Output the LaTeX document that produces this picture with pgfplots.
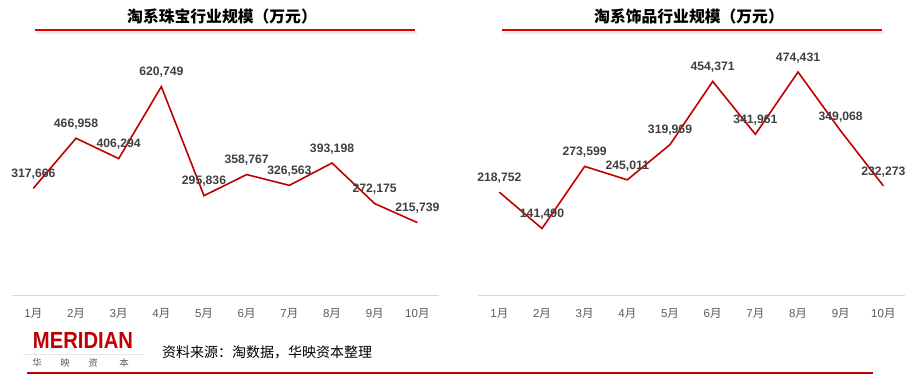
\documentclass[border=0pt]{standalone}
\usepackage{fontspec}
\usepackage{graphicx}
\usepackage{pgfplots}
\pgfplotsset{compat=1.18}
\setmainfont{Liberation Sans}
\newfontfamily\cjk{Noto Sans CJK SC}
\definecolor{lred}{HTML}{C00000}
\definecolor{tred}{HTML}{E00000}
\definecolor{lbl}{HTML}{404040}
\definecolor{tickc}{HTML}{595959}
\definecolor{axgray}{HTML}{D9D9D9}
\pgfplotsset{myax/.style={
  scale only axis, width=426.7pt, height=235pt,
  xmin=0.5, xmax=10.5, ymin=0,
  axis x line=bottom, axis y line=none,
  axis line style={draw=axgray, line width=0.8pt, -},
  xtick={1,...,10},
  xticklabels={1{\cjk 月},2{\cjk 月},3{\cjk 月},4{\cjk 月},5{\cjk 月},6{\cjk 月},7{\cjk 月},8{\cjk 月},9{\cjk 月},10{\cjk 月}},
  major tick length=0pt,
  xticklabel style={anchor=center, yshift=-18.5pt, font=\fontsize{11.5}{11.5}\selectfont, text=tickc},
  clip=false,
  point meta=explicit symbolic,
  nodes near coords,
  every node near coord/.append style={anchor=center, yshift=14pt, font=\bfseries\fontsize{12.2}{12.2}\selectfont, text=lbl},
  anchor=south west,
}}
\begin{document}
\begin{tikzpicture}
\path[use as bounding box] (0,0) rectangle (916pt,-374pt);
\begin{axis}[myax, at={(12pt,-295pt)}, ymax=700000]
\addplot[lred, line width=1.6pt, mark=none] table[meta=lab] {
x y lab
1 317666 317,666
2 466958 466,958
3 406294 406,294
4 620749 620,749
5 295836 295,836
6 358767 358,767
7 326563 326,563
8 393198 393,198
9 272175 272,175
10 215739 215,739
};
\end{axis}
\begin{axis}[myax, at={(478pt,-295pt)}, ymax=500000]
\addplot[lred, line width=1.6pt, mark=none] table[meta=lab] {
x y lab
1 218752 218,752
2 141490 141,490
3 273599 273,599
4 245011 245,011
5 319969 319,969
6 454371 454,371
7 341961 341,961
8 474431 474,431
9 349068 349,068
10 232273 232,273
};
\end{axis}
% titles
\node[font=\cjk\bfseries\fontsize{15.8}{15.8}\selectfont] at (222pt,-16pt) {淘系珠宝行业规模（万元）};
\node[font=\cjk\bfseries\fontsize{15.8}{15.8}\selectfont] at (689pt,-16pt) {淘系饰品行业规模（万元）};
\fill[black!8] (36pt,-31pt) rectangle (417pt,-34pt);
\fill[tred] (35pt,-29.5pt) rectangle (415pt,-31pt);
\fill[black!8] (503pt,-31pt) rectangle (884pt,-34pt);
\fill[tred] (502pt,-29.5pt) rectangle (882pt,-31pt);
% logo
\node[text=lred, inner sep=0pt] at (83pt,-340pt) {\resizebox{100pt}{16pt}{\bfseries MERIDIAN}};
\fill[black!10] (23pt,-353.6pt) rectangle (143pt,-354.4pt);
\foreach \xx/\ch in {37/华,65/映,93/资,124/本}
  \node[font=\cjk\fontsize{9.5}{9.5}\selectfont, text=tickc] at (\xx pt,-363pt) {\ch};
\node[anchor=west, inner sep=0pt, font=\cjk\fontsize{14}{14}\selectfont] at (162pt,-352pt) {资料来源：淘数据，华映资本整理};
\fill[lred] (27pt,-372.2pt) rectangle (873pt,-373.6pt);
\end{tikzpicture}
\end{document}
